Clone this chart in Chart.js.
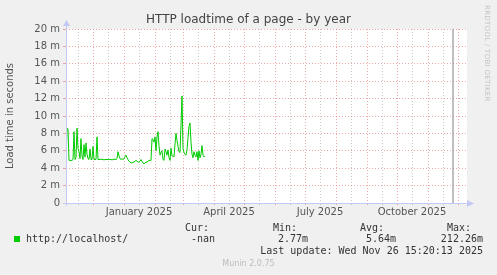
<!DOCTYPE html>
<html>
<head>
<meta charset="utf-8">
<title>HTTP loadtime of a page - by year</title>
<script src="https://cdn.jsdelivr.net/npm/chart.js@4.4.1/dist/chart.umd.min.js"></script>
<style>
  html, body { margin: 0; padding: 0; background: #f0f0f0; }
  #wrap { position: relative; width: 497px; height: 275px; overflow: hidden; font-family: "DejaVu Sans", sans-serif; }
  #loadChart { position: absolute; left: 0; top: 0; }
  .txt { position: absolute; white-space: pre; line-height: 1; }
  .mono { font-family: "DejaVu Sans Mono", monospace; font-size: 10px; color: #333; }
  #title { left: 0; width: 497px; top: 13px; text-align: center; font-size: 12px; color: #444; }
  #rrd { left: 483px; top: 5px; font-size: 7px; color: #c4c4c4; writing-mode: vertical-rl; letter-spacing: 0.3px; }
  #swatch { position: absolute; left: 14px; top: 236px; width: 6px; height: 6px; background: #00cc00; }
  #munin { left: 0; width: 497px; top: 260px; text-align: center; font-size: 8px; color: #bbb; }
</style>
</head>
<body>
<div id="wrap">
  <canvas id="loadChart" width="497" height="275"></canvas>
  <div id="title" class="txt">HTTP loadtime of a page - by year</div>
  <div id="rrd" class="txt">RRDTOOL / TOBI OETIKER</div>
  <div id="swatch"></div>
  <div id="legend"></div>
  <div id="munin" class="txt">Munin 2.0.75</div>
</div>
<script>
// Chart data
var startDate = "2024-11-04";
var endDate = "2025-12-09";
var nowDate = "2025-11-26";
var seriesName = "http://localhost/";

// load time in ms, one value per day from startDate
var loadTime = [
  5.0, 8.6, 8.5, 4.9, 4.9, 4.9, 4.9, 5.0, 8.2, 5.0,
  5.2, 8.6, 6.3, 5.9, 5.1, 7.4, 5.4, 5.0, 6.7, 5.3,
  6.9, 5.6, 5.1, 5.0, 6.2, 5.0, 5.0, 6.5, 5.0, 5.0,
  5.0, 7.6, 5.0, 5.0, 5.0, 5.05, 5.0, 5.0, 4.95, 5.0,
  5.0, 5.0, 5.0, 5.05, 5.0, 5.0, 4.95, 5.0, 5.05, 5.0,
  5.0, 5.1, 5.9, 5.4, 5.1, 5.0, 5.1, 5.0, 5.1, 5.3,
  5.5, 5.2, 5.0, 4.8, 4.7, 4.6, 4.6, 4.7, 4.7, 4.8,
  4.9, 4.8, 4.7, 4.7, 4.8, 5.0, 4.8, 4.6, 4.5, 4.6,
  4.7, 4.7, 4.8, 4.9, 4.9, 4.9, 7.4, 7.3, 7.0, 7.6,
  6.0, 7.6, 8.2, 6.6, 5.5, 5.8, 6.0, 5.0, 4.9, 6.2,
  5.9, 5.5, 6.1, 5.2, 4.9, 6.3, 5.4, 5.4, 5.3, 6.8,
  8.0, 7.2, 6.5, 5.9, 5.8, 9.0, 12.3, 6.3, 5.8, 5.6,
  5.5, 6.1, 7.5, 8.8, 9.2, 7.0, 5.6, 5.2, 5.9, 5.5,
  5.3, 5.9, 4.9, 6.0, 5.2, 5.6, 6.6, 5.5, 5.3, 5.4
];

var xLabelText = ["January 2025", "April 2025", "July 2025", "October 2025"];
var xLabelDates = ["2025-01-16", "2025-04-16", "2025-07-16", "2025-10-16"];
var yMax = 20;

var statNames = ["Cur:", "Min:", "Avg:", "Max:"];
var statValues = ["-nan", "2.77m", "5.64m", "212.26m"];
var lastUpdate = "Last update: Wed Nov 26 15:20:13 2025";

// Helpers
var DAY = 86400000;
var startMs = Date.parse(startDate + "T00:00:00Z");
function dayOf(d) {
  return Math.round((Date.parse(d + "T00:00:00Z") - startMs) / DAY);
}
var lastDay = dayOf(endDate);
var nowDay = dayOf(nowDate);

var majorColor = "rgba(228, 110, 110, 0.6)";
var minorColor = "rgba(160, 160, 160, 0.55)";
var axisColor = "#c4c8f4";

// Month starts get the red grid, the 16th gets the grey one
var monthStarts = [];
var midMonths = [];
for (var m = 10; m <= 23; m++) {
  var a = Math.round((Date.UTC(2024, m, 1) - startMs) / DAY);
  var b = Math.round((Date.UTC(2024, m, 16) - startMs) / DAY);
  if (a > 0 && a < lastDay) monthStarts.push(a);
  if (b > 0 && b < lastDay) midMonths.push(b);
}
var xTickValues = monthStarts.concat(midMonths).sort(function (p, q) { return p - q; });
var xLabelDays = xLabelDates.map(dayOf);

// Build legend
var legend = document.getElementById("legend");
var nameLeft = [185, 273, 360, 447];
var valueRight = [215, 308, 396, 483];
function addText(text, css) {
  var el = document.createElement("div");
  el.className = "txt mono";
  el.textContent = text;
  for (var k in css) el.style[k] = css[k];
  legend.appendChild(el);
}
addText(seriesName, { left: "26px", top: "234px" });
statNames.forEach(function (name, i) {
  addText(name, { left: nameLeft[i] + "px", top: "223px" });
  addText(statValues[i], { right: (497 - valueRight[i]) + "px", top: "234px" });
});
addText(lastUpdate, { right: "14px", top: "246px" });

// Plot background and axis arrows
var munoinFrame = {
  id: "muninFrame",
  beforeDraw: function (chart) {
    var c = chart.ctx, ar = chart.chartArea;
    c.save();
    c.fillStyle = "#ffffff";
    c.fillRect(ar.left, ar.top, ar.right - ar.left + 1, ar.bottom - ar.top);
    c.restore();
  },
  afterDraw: function (chart) {
    var c = chart.ctx, ar = chart.chartArea;
    c.save();
    c.strokeStyle = axisColor;
    c.fillStyle = axisColor;
    c.lineWidth = 1;
    c.beginPath();
    c.moveTo(ar.left - 3, ar.bottom + 0.5);
    c.lineTo(ar.right + 2, ar.bottom + 0.5);
    c.moveTo(ar.left + 0.5, ar.bottom + 3);
    c.lineTo(ar.left + 0.5, ar.top - 4);
    c.stroke();
    c.beginPath();
    c.moveTo(ar.right + 1, ar.bottom - 3);
    c.lineTo(ar.right + 8, ar.bottom + 0.5);
    c.lineTo(ar.right + 1, ar.bottom + 4);
    c.fill();
    c.beginPath();
    c.moveTo(ar.left - 3, ar.top - 3);
    c.lineTo(ar.left + 0.5, ar.top - 9);
    c.lineTo(ar.left + 4, ar.top - 3);
    c.fill();
    c.restore();
  }
};

// Initialize chart
var ctx = document.getElementById("loadChart").getContext("2d");
var loadChart = new Chart(ctx, {
  type: "line",
  data: {
    datasets: [
      {
        label: seriesName,
        data: loadTime.map(function (v, i) { return { x: i, y: v }; }),
        borderColor: "#00cc00",
        borderWidth: 1,
        pointRadius: 0,
        tension: 0,
      },
      {
        label: "now",
        data: [{ x: nowDay, y: 0 }, { x: nowDay, y: yMax }],
        borderColor: "#808080",
        borderWidth: 1,
        pointRadius: 0,
      },
    ],
  },
  options: {
    responsive: false,
    animation: false,
    devicePixelRatio: 1,
    layout: { padding: { left: 0, right: 31, top: 29, bottom: 0 } },
    plugins: {
      legend: { display: false },
      title: { display: false },
      tooltip: { enabled: false },
    },
    scales: {
      x: {
        type: "linear",
        min: 0,
        max: lastDay,
        afterBuildTicks: function (scale) {
          scale.ticks = xTickValues.map(function (v) { return { value: v }; });
        },
        afterFit: function (scale) { scale.height = 72; },
        grid: {
          color: function (c) {
            return c.tick && monthStarts.indexOf(c.tick.value) > -1 ? majorColor : minorColor;
          },
          tickLength: 2,
        },
        border: { display: false, dash: [1, 2] },
        ticks: {
          autoSkip: false,
          maxRotation: 0,
          padding: 1,
          color: "#555",
          font: { family: "DejaVu Sans", size: 10 },
          callback: function (v) {
            var k = xLabelDays.indexOf(v);
            return k > -1 ? xLabelText[k] : "";
          },
        },
      },
      y: {
        min: 0,
        max: yMax,
        afterFit: function (scale) { scale.width = 66; },
        grid: {
          color: function (c) {
            if (!c.tick || c.tick.value === 0) return "rgba(0,0,0,0)";
            return c.tick.value % 2 === 0 ? majorColor : minorColor;
          },
          tickLength: 3,
        },
        border: { display: false, dash: [1, 2] },
        ticks: {
          stepSize: 1,
          padding: 3,
          color: "#555",
          font: { family: "DejaVu Sans", size: 10 },
          callback: function (v) {
            if (v % 2 !== 0) return "";
            return v === 0 ? "0" : v + " m";
          },
        },
        title: {
          display: true,
          text: "Load time in seconds",
          color: "#555",
          font: { family: "DejaVu Sans", size: 10 },
          padding: { top: 4, bottom: 0 },
        },
      },
    },
  },
  plugins: [munoinFrame],
});
</script>
</body>
</html>
